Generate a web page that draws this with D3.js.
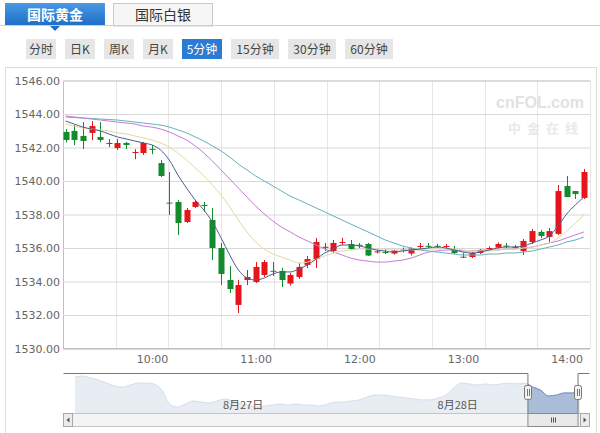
<!DOCTYPE html>
<html><head><meta charset="utf-8">
<script src="https://cdn.jsdelivr.net/npm/d3@7/dist/d3.min.js"></script>
<style>body{margin:0;background:#fff;overflow:hidden}svg{display:block}</style>
</head><body>
<svg id="c" width="600" height="433"></svg>
<script>
// ---------- data ----------
const tabs = ["国际黄金", "国际白银"];
const periods = ["分时", "日K", "周K", "月K", "5分钟", "15分钟", "30分钟", "60分钟"];
const activePeriod = "5分钟";
const times = ["09:10","09:15","09:20","09:25","09:30","09:35","09:40","09:45","09:50","09:55",
  "10:00","10:05","10:10","10:15","10:20","10:25","10:30","10:35","10:40","10:45",
  "10:50","10:55","11:00","11:05","11:10","11:15","11:20","11:25","11:30","11:35",
  "11:40","11:45","11:50","11:55","12:00","12:05","12:10","12:15","12:20","12:25",
  "12:30","12:35","12:40","12:45","12:50","12:55","13:00","13:05","13:10","13:15",
  "13:20","13:25","13:30","13:35","13:40","13:45","13:50","13:55","14:00","14:05","14:10"];
const open  = [1542.93,1542.99,1542.69,1542.87,1542.63,1542.25,1541.97,1542.27,1541.67,1541.67,
  1541.92,1541.07,1538.71,1538.75,1537.55,1538.45,1538.57,1537.67,1536.00,1534.09,
  1532.60,1534.09,1533.97,1534.39,1534.64,1534.63,1533.88,1534.27,1534.99,1535.34,
  1536.05,1535.82,1536.34,1536.24,1536.19,1536.24,1535.78,1535.76,1535.67,1535.91,
  1535.67,1536.10,1536.13,1536.13,1536.09,1535.88,1535.48,1535.46,1535.70,1535.96,
  1536.02,1536.14,1536.04,1535.82,1536.36,1536.96,1536.66,1536.84,1539.70,1539.40,1538.99];
const high  = [1543.10,1543.34,1543.52,1543.58,1543.52,1542.50,1542.50,1542.33,1541.90,1542.33,
  1542.15,1541.25,1540.54,1538.87,1538.39,1538.87,1538.75,1538.39,1536.30,1534.93,
  1534.09,1534.69,1535.16,1535.28,1535.16,1534.81,1534.51,1535.10,1535.52,1536.60,
  1536.30,1536.48,1536.60,1536.48,1536.30,1536.30,1535.91,1535.91,1535.91,1536.03,
  1536.03,1536.30,1536.30,1536.25,1536.25,1536.12,1535.70,1535.76,1535.94,1536.10,
  1536.33,1536.30,1536.18,1536.54,1537.13,1537.07,1537.19,1539.76,1540.30,1539.40,1540.72];
const low   = [1542.30,1542.15,1541.91,1542.45,1542.33,1542.03,1541.85,1541.91,1541.30,1541.55,
  1541.60,1540.24,1537.97,1536.78,1537.49,1538.39,1538.15,1535.28,1533.79,1533.31,
  1532.12,1533.79,1533.91,1534.27,1534.33,1533.67,1533.76,1534.15,1534.81,1534.81,
  1535.82,1535.70,1536.18,1535.88,1536.00,1535.52,1535.67,1535.64,1535.61,1535.73,
  1535.55,1535.90,1536.00,1536.00,1536.00,1535.64,1535.40,1535.40,1535.64,1535.85,
  1535.97,1536.00,1535.94,1535.58,1536.24,1536.60,1536.36,1536.78,1539.04,1538.93,1538.93];
const close = [1542.45,1542.45,1542.39,1543.28,1542.45,1542.27,1542.27,1542.15,1541.73,1542.27,
  1541.90,1540.30,1538.69,1537.49,1538.27,1538.75,1538.55,1536.00,1534.45,1533.55,
  1533.79,1534.27,1534.87,1535.16,1534.62,1534.09,1534.39,1534.87,1535.34,1536.36,
  1536.07,1536.30,1536.36,1535.94,1536.17,1535.55,1535.80,1535.74,1535.85,1535.88,
  1535.97,1536.12,1536.10,1536.10,1536.12,1535.70,1535.46,1535.70,1535.88,1536.00,
  1536.24,1536.12,1536.07,1536.42,1537.01,1536.72,1537.01,1539.40,1539.04,1539.22,1540.54];
const ma5  = [1543.58,1543.40,1543.22,1543.10,1542.99,1542.81,1542.63,1542.51,1542.39,1542.27,
  1542.15,1541.85,1541.25,1540.36,1539.58,1538.87,1538.27,1537.55,1536.60,1535.58,
  1534.69,1534.21,1534.09,1534.21,1534.45,1534.57,1534.57,1534.75,1534.99,1535.34,
  1535.70,1535.94,1536.18,1536.18,1536.12,1536.00,1535.88,1535.82,1535.76,1535.82,
  1535.88,1535.94,1536.00,1536.06,1536.00,1535.88,1535.76,1535.70,1535.76,1535.88,
  1536.00,1536.06,1536.06,1536.12,1536.30,1536.48,1536.72,1537.31,1538.03,1538.57,1539.04];
const ma10 = [1543.40,1543.28,1543.16,1543.10,1543.05,1542.99,1542.87,1542.81,1542.69,1542.57,
  1542.45,1542.27,1542.03,1541.67,1541.25,1540.78,1540.30,1539.76,1539.16,1538.45,
  1537.67,1536.96,1536.36,1535.94,1535.64,1535.46,1535.28,1535.10,1535.16,1535.34,
  1535.52,1535.70,1535.82,1535.88,1535.94,1535.94,1535.94,1535.94,1535.88,1535.88,
  1535.88,1535.88,1535.94,1535.94,1535.94,1535.94,1535.88,1535.82,1535.82,1535.82,
  1535.88,1535.94,1535.94,1536.00,1536.06,1536.18,1536.30,1536.60,1537.01,1537.49,1537.97];
const ma20 = [1543.88,1543.82,1543.76,1543.70,1543.64,1543.58,1543.52,1543.46,1543.40,1543.28,
  1543.22,1543.10,1542.93,1542.69,1542.45,1542.09,1541.67,1541.19,1540.66,1540.12,
  1539.58,1539.04,1538.51,1538.03,1537.61,1537.25,1536.96,1536.66,1536.42,1536.18,
  1535.94,1535.76,1535.58,1535.40,1535.28,1535.22,1535.16,1535.16,1535.22,1535.28,
  1535.40,1535.58,1535.76,1535.82,1535.88,1535.88,1535.82,1535.82,1535.88,1535.88,
  1535.88,1535.94,1535.94,1536.00,1536.06,1536.18,1536.30,1536.42,1536.60,1536.78,1536.96];
const ma30 = [1543.82,1543.79,1543.76,1543.73,1543.70,1543.67,1543.64,1543.58,1543.52,1543.46,
  1543.40,1543.34,1543.22,1543.05,1542.87,1542.63,1542.39,1542.09,1541.79,1541.43,
  1541.01,1540.66,1540.30,1540.00,1539.70,1539.40,1539.10,1538.87,1538.63,1538.39,
  1538.15,1537.91,1537.67,1537.43,1537.19,1536.96,1536.72,1536.48,1536.30,1536.12,
  1536.00,1535.88,1535.82,1535.76,1535.70,1535.64,1535.58,1535.58,1535.58,1535.64,
  1535.64,1535.70,1535.70,1535.76,1535.82,1535.94,1536.06,1536.18,1536.36,1536.48,1536.66];
const yTicks = [1530,1532,1534,1536,1538,1540,1542,1544,1546];
const xTickLabels = ["10:00","11:00","12:00","13:00","14:00"];
// navigator (two-day overview)
const navValues = [1548.7,1549.3,1548.0,1546.7,1544.7,1542.8,1542.1,1543.4,1544.7,1544.7,
  1544.1,1540.1,1530.9,1528.9,1530.9,1532.9,1532.2,1531.6,1532.9,1534.2,
  1532.9,1530.9,1530.3,1528.9,1529.6,1530.3,1530.9,1530.3,1530.9,1530.3,
  1530.3,1529.6,1530.9,1532.2,1532.2,1532.9,1533.6,1535.5,1536.8,1536.8,
  1536.2,1535.5,1534.9,1534.2,1533.6,1533.6,1534.9,1536.8,1541.4,1544.7,
  1544.1,1543.4,1544.1,1543.4,1544.1,1544.7,1544.1,1544.7,1542.1,1540.1,
  1536.2,1536.8,1538.2,1538.2,1538.8];
const navDayLabels = ["8月27日", "8月28日"];
const navDayPos = [21.3, 48.5];
const navSelection = [57.4, 63.75];

// ---------- drawing ----------
const svg = d3.select("#c");
const CJK = "'Noto Sans CJK SC','Noto Sans',sans-serif";
const SANS = "'DejaVu Sans',Verdana,sans-serif";
const RED = "#e8141c", GREEN = "#138a2c";

// tabs
const tabG = svg.append("g");
const tabX = d3.scaleBand().domain(tabs).range([5, 213]).paddingInner(0.075);
const defs = svg.append("defs");
const gTab = defs.append("linearGradient").attr("id","tabg").attr("x1",0).attr("y1",0).attr("x2",0).attr("y2",1);
gTab.append("stop").attr("offset","0%").attr("stop-color","#4a9ae6");
gTab.append("stop").attr("offset","100%").attr("stop-color","#1c6dc4");
svg.append("line").attr("x1",0).attr("x2",600).attr("y1",25.5).attr("y2",25.5).attr("stroke","#d0d0d0");
tabs.forEach((t,i)=>{
  const x0 = tabX(t), w = tabX.bandwidth();
  if(i===0){
    tabG.append("rect").attr("x",x0).attr("y",3).attr("width",w).attr("height",23).attr("fill","url(#tabg)");
    tabG.append("path").attr("d",`M${x0+w/2-5},26L${x0+w/2+5},26L${x0+w/2},31Z`).attr("fill","#1c6dc4");
  } else {
    tabG.append("rect").attr("x",x0+0.5).attr("y",3.5).attr("width",w-1).attr("height",22.5).attr("fill","#f6f6f6").attr("stroke","#c8c8c8");
  }
  tabG.append("text").attr("x",x0+w/2).attr("y",20).attr("text-anchor","middle")
    .attr("font-family",CJK).attr("font-size",14).attr("font-weight",i===0?"bold":"normal")
    .attr("fill",i===0?"#fff":"#333").text(t);
});

// period buttons
const btnW = periods.map(p => p.length <= 2 ? 30 : (p.length === 3 ? 40 : 48));
let bx = 26;
periods.forEach((p,i)=>{
  const act = p === activePeriod;
  svg.append("rect").attr("x",bx).attr("y",39).attr("width",btnW[i]).attr("height",20)
    .attr("fill",act?"#2b7bd3":"#e6e6e6");
  svg.append("text").attr("x",bx+btnW[i]/2).attr("y",54).attr("text-anchor","middle")
    .attr("font-family",CJK).attr("font-size",12).attr("fill",act?"#fff":"#444").text(p);
  bx += btnW[i] + 9;
});

// container border
svg.append("rect").attr("x",5.5).attr("y",67.5).attr("width",591).attr("height",380)
  .attr("fill","none").attr("stroke","#dcdcdc");

// scales
const x = d3.scaleLinear().domain([-0.3, times.length - 0.3]).range([63, 590]);
const y = d3.scaleLinear().domain([1530, 1546]).range([348.5, 80.5]);

// watermark
svg.append("text").attr("x",584).attr("y",108).attr("text-anchor","end")
  .attr("font-family","'Liberation Sans',Arial,sans-serif").attr("font-size",16).attr("font-weight","bold")
  .attr("fill","#e2e2e2").text("cnFOL.com");
svg.append("text").attr("x",584).attr("y",133).attr("text-anchor","end")
  .attr("font-family",CJK).attr("font-size",13).attr("font-weight","bold").attr("letter-spacing",6)
  .attr("fill","#eaeaea").text("中金在线");

// vertical grid: plot divided in ten equal parts
const [d0, d1] = x.domain();
const vGrid = d3.range(1, 11).map(k => d0 + (d1 - d0) * k / 10);
svg.append("g").selectAll("line").data(vGrid).join("line")
  .attr("x1",d=>Math.round(x(d))+0.5).attr("x2",d=>Math.round(x(d))+0.5)
  .attr("y1",y(1546)).attr("y2",y(1530)).attr("stroke","#e6e6e6");

// y axis
const yAxis = d3.axisLeft(y).tickValues(yTicks).tickFormat(d3.format(".2f")).tickSize(-(590-63)).tickPadding(3);
const ya = svg.append("g").attr("transform","translate(63,0)").call(yAxis);
ya.select(".domain").attr("stroke","#c0c0c0");
ya.selectAll(".tick line").attr("stroke","#d8d8d8");
ya.selectAll(".tick text").attr("font-family",SANS).attr("font-size",11).attr("fill","#666");
svg.append("line").attr("x1",63).attr("x2",590).attr("y1",y(1530)).attr("y2",y(1530)).attr("stroke","#c0c0c0");

// x axis labels
const xAxis = d3.axisBottom(x).tickValues(xTickLabels.map(t => times.indexOf(t)))
  .tickFormat(i => times[i]).tickSize(0).tickPadding(7);
const xa = svg.append("g").attr("transform",`translate(0,${y(1530)})`).call(xAxis);
xa.select(".domain").remove();
xa.selectAll(".tick text").attr("font-family",SANS).attr("font-size",11).attr("fill","#666");

// candles
const candles = times.map((t,i)=>({i, o:open[i], h:high[i], l:low[i], c:close[i]}));
const cg = svg.append("g");
const bw = 6;
cg.selectAll("line").data(candles).join("line")
  .attr("x1",d=>Math.round(x(d.i))+0.5).attr("x2",d=>Math.round(x(d.i))+0.5)
  .attr("y1",d=>y(d.h)).attr("y2",d=>y(d.l))
  .attr("stroke",d=>d.c>=d.o?RED:GREEN);
cg.selectAll("rect").data(candles).join("rect")
  .attr("x",d=>Math.round(x(d.i))-bw/2+0.5).attr("width",bw)
  .attr("y",d=>y(Math.max(d.o,d.c))).attr("height",d=>Math.max(1, y(Math.min(d.o,d.c))-y(Math.max(d.o,d.c))))
  .attr("fill",d=>d.c>=d.o?RED:GREEN);

// moving average lines
const maSeries = [
  {v: ma30, color:"#62b1b8"},
  {v: ma20, color:"#c47ad8"},
  {v: ma10, color:"#e3d8a0"},
  {v: ma5,  color:"#4a5e8e"}
];
const line = d3.line().x((d,i)=>x(i)).y(d=>y(d)).curve(d3.curveMonotoneX);
maSeries.forEach(s=>{
  svg.append("path").attr("d",line(s.v)).attr("fill","none").attr("stroke",s.color).attr("stroke-width",1);
});

// ---------- navigator ----------
const nx = d3.scaleLinear().domain([0, navValues.length - 1]).range([75, 580]);
const ny = d3.scaleLinear().domain([1525, 1550]).range([413, 375]);
const navTop = 373.5, navBot = 413, scTop = 413.5, scBot = 426.5, L = 63.5, R = 589.5;
const selX0 = nx(navSelection[0]), selX1 = nx(navSelection[1]);
defs.append("clipPath").attr("id","selclip").append("rect").attr("x",selX0).attr("y",navTop).attr("width",selX1-selX0).attr("height",navBot-navTop);
const area = d3.area().x((d,i)=>nx(i)).y0(navBot).y1(d=>ny(d)).curve(d3.curveMonotoneX);
const navLine = d3.line().x((d,i)=>nx(i)).y(d=>ny(d)).curve(d3.curveMonotoneX);
svg.append("path").attr("d",area(navValues)).attr("fill","#e8edf3");
svg.append("path").attr("d",navLine(navValues)).attr("fill","none").attr("stroke","#d6dee9");
svg.append("path").attr("d",area(navValues)).attr("fill","#a9bcd8").attr("clip-path","url(#selclip)");
svg.append("path").attr("d",navLine(navValues)).attr("fill","none").attr("stroke","#6f8fc0").attr("clip-path","url(#selclip)");
// day labels
navDayLabels.forEach((t,k)=>{
  svg.append("text").attr("x",nx(navDayPos[k])).attr("y",409).attr("text-anchor","middle")
    .attr("font-family",CJK).attr("font-size",11).attr("fill","#555").text(t);
});
// outline
svg.append("path").attr("d",`M${L},${navTop}H${selX0}V${scBot}M${selX1},${scBot}V${navTop}H${R}`)
  .attr("fill","none").attr("stroke","#777");
// scrollbar
svg.append("rect").attr("x",L).attr("y",scTop).attr("width",R-L).attr("height",scBot-scTop).attr("fill","#f4f4f4").attr("stroke","#c4c4c4");
svg.append("rect").attr("x",L).attr("y",scTop).attr("width",9).attr("height",scBot-scTop).attr("fill","#ececec").attr("stroke","#a8a8a8");
svg.append("path").attr("d",`M${L+6},${scTop+4}L${L+3},${scTop+6.5}L${L+6},${scTop+9}Z`).attr("fill","#555");
svg.append("rect").attr("x",R-9).attr("y",scTop).attr("width",9).attr("height",scBot-scTop).attr("fill","#ececec").attr("stroke","#a8a8a8");
svg.append("path").attr("d",`M${R-6},${scTop+4}L${R-3},${scTop+6.5}L${R-6},${scTop+9}Z`).attr("fill","#555");
svg.append("rect").attr("x",selX0).attr("y",scTop).attr("width",selX1-selX0).attr("height",scBot-scTop).attr("fill","#e9e9e9").attr("stroke","#8a8a8a");
[-2,0,2].forEach(o=>{
  const cx = Math.round((selX0+selX1)/2)+o+0.5;
  svg.append("line").attr("x1",cx).attr("x2",cx).attr("y1",scTop+4).attr("y2",scTop+9).attr("stroke","#555");
});
// handles
[selX0, selX1].forEach(hx=>{
  svg.append("rect").attr("x",Math.round(hx)-3.5).attr("y",385.5).attr("width",7).attr("height",14).attr("rx",2)
    .attr("fill","#f2f2f2").attr("stroke","#777");
  [-1,1].forEach(o=>svg.append("line").attr("x1",Math.round(hx)+o+0.5).attr("x2",Math.round(hx)+o+0.5)
    .attr("y1",389).attr("y2",396).attr("stroke","#777"));
});
</script>
</body></html>
